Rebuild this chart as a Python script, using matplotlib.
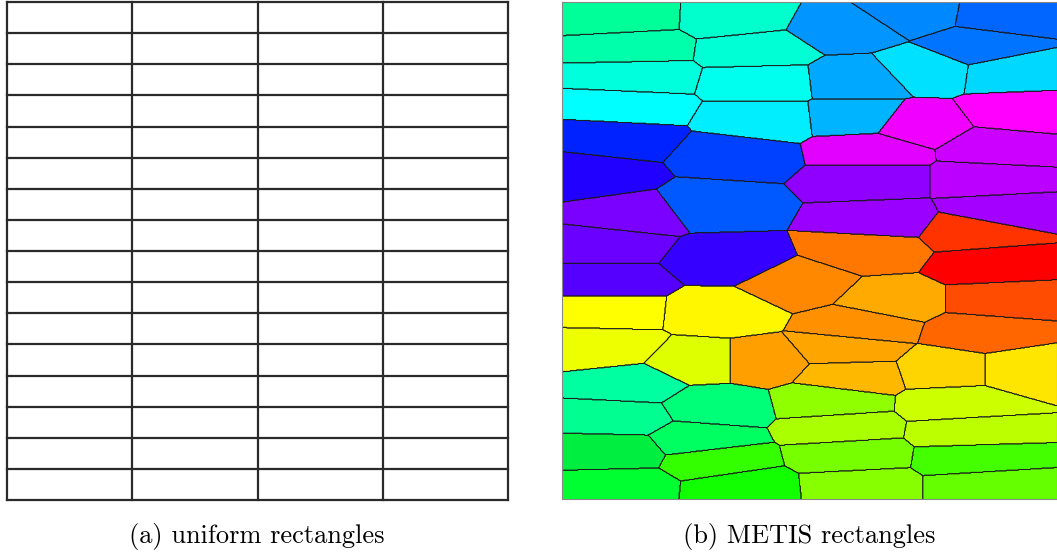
import numpy as np
import matplotlib
matplotlib.use('Agg')
import matplotlib.pyplot as plt
from matplotlib.colors import ListedColormap

# uniform partition: 4 columns x 16 rows of equal rectangles
n_cols = 4
n_rows = 16

# METIS partition: centre of each part (x, y on a 0..100 square) and its colour
part_x = [12.7, 34.9, 57.2, 70.3, 89.5, 84.4, 14.7, 39.0, 15.4, 40.0,
          60.2, 73.3, 90.5, 13.7, 40.0, 60.2, 71.3, 92.5, 11.7, 34.9,
          30.9, 62.2, 88.5, 6.7, 62.2, 86.5, 88.5, 64.2, 13.7, 9.7,
          32.9, 9.7, 62.2, 48.1, 83.4, 86.5, 88.5, 66.3, 60.2, 85.5,
          9.7, 31.9, 8.7, 27.9, 40.0, 58.2, 57.2, 78.4, 92.5, 13.7,
          11.7, 30.9, 27.9, 10.7, 11.7, 30.9, 36.0, 54.1, 56.2, 58.2,
          60.2, 80.4, 82.4, 83.4, 85.5]
part_y = [97.0, 96.8, 94.8, 98.0, 97.4, 90.9, 90.9, 90.3, 85.1, 83.9,
          84.3, 86.3, 85.9, 78.9, 76.3, 76.7, 75.3, 77.9, 72.6, 69.2,
          59.2, 70.2, 70.6, 65.2, 64.2, 64.2, 58.1, 56.1, 57.1, 51.1,
          48.1, 43.7, 50.1, 43.1, 53.7, 47.1, 40.0, 40.0, 35.0, 33.6,
          38.0, 37.6, 30.6, 27.6, 27.6, 24.9, 30.0, 26.0, 26.0, 22.9,
          16.5, 18.5, 11.9, 9.5, 2.6, 7.8, 2.2, 19.5, 14.3, 8.9,
          2.6, 19.1, 13.5, 8.2, 2.6]
part_color = ['#00FF99', '#00FFCC', '#0095FF', '#0088FF', '#0066FF', '#0074FF', '#00FFAA', '#00FFD4', '#00FFDD', '#00FFEE',
              '#00A8FF', '#00E0FF', '#00D8FF', '#00FFFF', '#00EEFF', '#00B4FF', '#F000FF', '#FF00FF', '#0022FF', '#0040FF',
              '#0058FF', '#E200FF', '#CC00FF', '#2200FF', '#8F00FF', '#BB00FF', '#A400FF', '#9A00FF', '#7A00FF', '#6A00FF',
              '#3500FF', '#5500FF', '#FF7700', '#FF8800', '#FF3300', '#FF0000', '#FF4C00', '#FFAA00', '#FF9000', '#FF6600',
              '#FFFF00', '#FFF700', '#EEFF00', '#DDFF00', '#FF9F00', '#FFB800', '#FFA500', '#FFD500', '#FFE600', '#00FFA0',
              '#00FF90', '#00FF78', '#00FF60', '#00EE40', '#00FF30', '#33FF00', '#11FF00', '#90FF00', '#AAFF00', '#77FF00',
              '#88FF00', '#CCFF00', '#BBFF00', '#44FF00', '#66FF00']

W, H = 1057, 554
fig = plt.figure(figsize=(W / 100, H / 100), dpi=100)

# (a) uniform grid
ax1 = fig.add_axes([7 / W, 54 / H, 501 / W, 498 / H])
ax1.set_xlim(0, n_cols)
ax1.set_ylim(0, n_rows)
for i in range(n_cols + 1):
    ax1.axvline(i, color='#2a2a2a', lw=1.6, clip_on=False)
for j in range(n_rows + 1):
    ax1.axhline(j, color='#2a2a2a', lw=1.6, clip_on=False)
ax1.axis('off')

# (b) METIS parts, each cell goes to the nearest part centre (rows weigh more)
ax2 = fig.add_axes([562 / W, 55 / H, 495 / W, 497 / H])
res = 700
g = np.linspace(0, 100, res)
X, Y = np.meshgrid(g, g)
px = np.array(part_x)
py = np.array(part_y)
aniso = 2.5
best = np.full(X.shape, np.inf)
lab = np.zeros(X.shape, dtype=int)
for k in range(len(px)):
    d = (X - px[k]) ** 2 + (aniso * (Y - py[k])) ** 2
    m = d < best
    best[m] = d[m]
    lab[m] = k

n = len(part_color)
ax2.imshow(lab, origin='lower', extent=(0, 100, 0, 100), cmap=ListedColormap(part_color),
           vmin=-0.5, vmax=n - 0.5, interpolation='nearest', aspect='auto')
for k in range(n):
    ax2.contour(X, Y, (lab == k).astype(float), levels=[0.5], colors='#1a1a1a', linewidths=0.6)
ax2.set_xlim(0, 100)
ax2.set_ylim(0, 100)
ax2.set_xticks([])
ax2.set_yticks([])
for s in ax2.spines.values():
    s.set_color('#888888')
    s.set_linewidth(0.8)

fig.text(257 / W, 1 - 537 / H, '(a) uniform rectangles', ha='center', va='center',
         family='cmr10', size=19)
fig.text(809 / W, 1 - 537 / H, '(b) METIS rectangles', ha='center', va='center',
         family='cmr10', size=19)

fig.savefig('out.png', dpi=100)
